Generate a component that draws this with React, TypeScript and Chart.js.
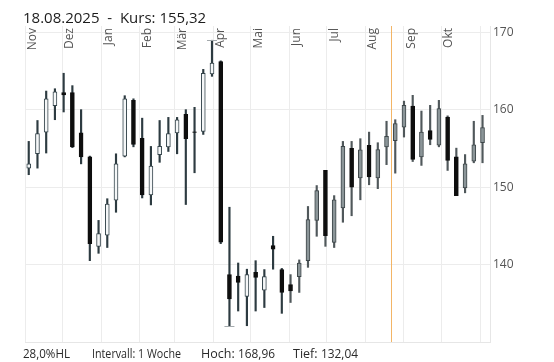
import React, { useEffect, useRef } from 'react';
import { Chart, registerables } from 'chart.js';

Chart.register(...registerables);

// ---- data ----
const firstWeek = '2024-11-04';
const open = [152.45, 154.3, 157.1, 160.5, 162.2, 162.2, 157.0, 153.9, 142.35, 143.8, 148.3, 154.0, 161.2, 156.3, 149.0, 154.2, 155.2, 157.0, 159.4, 157.15, 157.2, 164.6, 166.2, 138.7, 138.5, 135.9, 139.0, 136.7, 142.45, 139.35, 137.4, 138.45, 140.5, 145.7, 152.15, 142.87, 147.3, 155.0, 151.2, 155.4, 151.2, 155.2, 156.0, 157.75, 160.47, 153.9, 157.3, 155.4, 159.04, 153.9, 149.9, 153.35, 155.73];
const high = [155.9, 158.6, 162.4, 162.7, 164.7, 163.1, 160.0, 154.0, 145.7, 148.5, 154.3, 161.8, 161.4, 158.9, 155.25, 158.6, 159.0, 159.0, 160.0, 160.3, 165.2, 168.96, 166.3, 147.4, 140.2, 139.4, 140.5, 139.35, 143.65, 139.5, 138.7, 140.6, 147.5, 150.2, 152.15, 148.9, 155.9, 155.9, 156.25, 157.1, 155.73, 158.5, 158.7, 161.1, 161.85, 159.82, 160.56, 161.2, 159.2, 155.03, 154.2, 158.5, 159.26];
const low = [151.6, 152.45, 154.4, 158.7, 159.7, 155.1, 153.0, 140.5, 141.45, 142.2, 146.75, 153.9, 155.2, 148.6, 147.7, 153.2, 154.6, 154.3, 147.75, 151.85, 156.8, 164.3, 142.7, 132.04, 134.0, 132.1, 134.0, 134.45, 139.4, 133.7, 135.1, 136.4, 139.64, 143.65, 142.35, 142.2, 145.46, 146.3, 148.36, 150.3, 149.8, 152.9, 151.8, 156.46, 153.3, 152.8, 155.47, 155.2, 152.15, 148.9, 149.26, 153.14, 153.14];
const close = [153.0, 156.9, 161.4, 162.3, 161.9, 155.2, 153.9, 142.7, 144.0, 147.8, 153.0, 161.4, 155.5, 149.0, 152.7, 155.25, 156.9, 158.7, 156.25, 157.05, 164.7, 166.0, 142.9, 135.55, 137.7, 138.7, 138.35, 138.45, 142.0, 136.4, 136.6, 140.2, 145.8, 149.56, 143.74, 148.36, 155.25, 150.0, 154.8, 151.3, 154.86, 156.55, 158.2, 160.56, 153.57, 157.1, 156.16, 160.13, 153.44, 148.9, 153.0, 155.47, 157.67];

const monthLabels = ['Nov', 'Dez', 'Jan', 'Feb', 'Mär', 'Apr', 'Mai', 'Jun', 'Jul', 'Aug', 'Sep', 'Okt', ''];
const monthStarts = ['2024-11-01', '2024-12-01', '2025-01-01', '2025-02-01', '2025-03-01', '2025-04-01', '2025-05-01', '2025-06-01', '2025-07-01', '2025-08-01', '2025-09-01', '2025-10-01', '2025-11-01'];
const yTicks = [140, 150, 160, 170];
const markerDate = '2025-08-21';
const styleChangeDate = '2025-06-01';
const titleText = '18.08.2025  -  Kurs: 155,32';
const hlText = '28,0%HL';
const intervalText = 'Intervall: 1 Woche';
const highLabel = 'Hoch:';
const highValue = '168,96';
const lowLabel = 'Tief:';
const lowValue = '132,04';

const BASE = Date.UTC(2024, 10, 1);
const dayOf = (s: string) => (Date.parse(s + 'T00:00:00Z') - BASE) / 86400000;
const firstDay = dayOf(firstWeek);
const xs = open.map((_, i) => firstDay + 7 * i);
const monthDays = monthStarts.map(dayOf);
const changeDay = dayOf(styleChangeDate);

const FONT = '"Open Sans", "DejaVu Sans", sans-serif';

const overlayPlugin = {
  id: 'overlay',
  beforeDatasetsDraw(chart: any) {
    const { ctx, chartArea, scales } = chart;
    const x = scales.x.getPixelForValue(dayOf(markerDate) + 0.5);
    ctx.save();
    ctx.strokeStyle = '#f3b566';
    ctx.lineWidth = 1;
    ctx.beginPath();
    ctx.moveTo(Math.round(x) + 0.5, chartArea.top);
    ctx.lineTo(Math.round(x) + 0.5, chartArea.bottom);
    ctx.stroke();
    ctx.restore();
  },
  afterDraw(chart: any) {
    const { ctx, chartArea, scales } = chart;
    ctx.save();
    // high / low caps
    const hiIdx = high.indexOf(Math.max(...high));
    const loIdx = low.indexOf(Math.min(...low));
    ctx.strokeStyle = '#a3a9ac';
    ctx.lineWidth = 1;
    const cap = (idx: number, v: number) => {
      const px = scales.x.getPixelForValue(xs[idx]);
      const py = Math.round(scales.y.getPixelForValue(v)) + 0.5;
      ctx.beginPath();
      ctx.moveTo(px - 5, py);
      ctx.lineTo(px + 5, py);
      ctx.stroke();
    };
    cap(hiIdx, high[hiIdx]);
    cap(loIdx, low[loIdx]);

    // month labels
    ctx.fillStyle = '#555';
    ctx.font = '12px ' + FONT;
    monthLabels.forEach((lab, i) => {
      if (!lab) return;
      const px = scales.x.getPixelForValue(monthDays[i]);
      ctx.save();
      ctx.translate(px + 7.5, chartArea.top + 2);
      ctx.rotate(-Math.PI / 2);
      ctx.textAlign = 'right';
      ctx.textBaseline = 'middle';
      ctx.fillText(lab, 0, 0);
      ctx.restore();
    });

    // title
    ctx.fillStyle = '#1c1c1c';
    ctx.font = '15px ' + FONT;
    ctx.textAlign = 'left';
    ctx.textBaseline = 'alphabetic';
    ctx.fillText(titleText, 23, 23);

    // footer
    ctx.fillStyle = '#2a2a2a';
    ctx.font = '12.5px ' + FONT;
    ctx.textBaseline = 'middle';
    const fy = 354;
    ctx.fillText(hlText, 23, fy, 47);
    ctx.fillText(intervalText, 92, fy, 89);
    ctx.fillText(highLabel, 201, fy);
    ctx.fillText(highValue, 238, fy, 37);
    ctx.fillText(lowLabel, 293, fy);
    ctx.fillText(lowValue, 321, fy, 37);
    ctx.restore();
  },
};

export default function App() {
  const ref = useRef<HTMLCanvasElement | null>(null);
  useEffect(() => {
    if (!ref.current) return;
    const isUp = open.map((o, i) => close[i] >= o);
    const late = xs.map((d) => d >= changeDay);
    const bodyFill = isUp.map((u, i) => (u ? (late[i] ? '#8b9598' : '#f5f7f8') : '#0e0e0e'));
    const bodyBorder = isUp.map((u, i) => (u ? (late[i] ? '#3d4649' : '#34444b') : '#0e0e0e'));
    const wickColor = late.map((l) => (l ? '#50585b' : '#2d3b41'));
    const chart = new Chart(ref.current, {
      type: 'bar',
      data: {
        datasets: [
          {
            label: 'wick',
            data: xs.map((d, i) => ({ x: d, y: [low[i], high[i]] })) as any,
            backgroundColor: wickColor,
            borderWidth: 0,
            barThickness: 1.5,
            grouped: false,
            order: 2,
          } as any,
          {
            label: 'body',
            data: xs.map((d, i) => ({ x: d, y: [open[i], close[i]] })) as any,
            backgroundColor: bodyFill,
            borderColor: bodyBorder,
            borderWidth: 1,
            borderSkipped: false,
            barThickness: 4,
            grouped: false,
            order: 1,
          } as any,
        ],
      },
      options: {
        animation: false,
        responsive: true,
        maintainAspectRatio: false,
        layout: { padding: { left: 25, top: 26, right: 0, bottom: 0 } },
        plugins: { legend: { display: false }, tooltip: { enabled: false } },
        scales: {
          x: {
            type: 'linear',
            offset: false,
            min: 0,
            max: 373,
            afterBuildTicks: (s: any) => {
              s.ticks = monthDays.map((v) => ({ value: v }));
            },
            afterFit: (s: any) => {
              s.height = 20;
            },
            ticks: { display: false },
            grid: { color: '#ececec', drawTicks: false, offset: false },
            border: { display: true, color: '#e6e6e6' },
          },
          y: {
            type: 'linear',
            position: 'right',
            min: 130,
            max: 170.8,
            afterBuildTicks: (s: any) => {
              s.ticks = yTicks.map((v) => ({ value: v }));
            },
            afterFit: (s: any) => {
              s.width = 64;
            },
            ticks: {
              padding: 3,
              color: '#555',
              font: { family: FONT, size: 12 },
              callback: (v: any) => String(v),
            },
            grid: { color: '#ececec', drawTicks: false },
            border: { display: true, color: '#e6e6e6' },
          },
        },
      },
      plugins: [overlayPlugin],
    });
    return () => chart.destroy();
  }, []);
  return (
    <div style={{ position: 'fixed', left: 0, top: 0, width: 554, height: 362, background: '#fff' }}>
      <canvas ref={ref} />
    </div>
  );
}
